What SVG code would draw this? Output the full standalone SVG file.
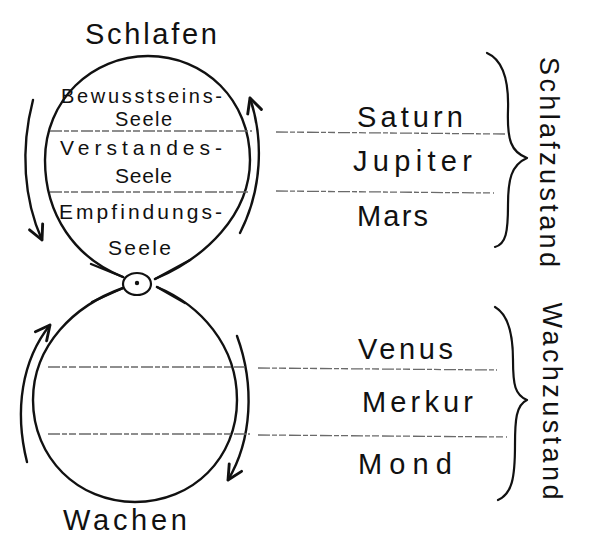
<svg xmlns="http://www.w3.org/2000/svg" width="595" height="556" viewBox="0 0 595 556">
  <defs>
    <style>
      .ink { fill: none; stroke: #111; stroke-width: 2.4; stroke-linecap: round; stroke-linejoin: round; }
      .thin { fill: none; stroke: #111; stroke-width: 2.2; stroke-linecap: round; stroke-linejoin: round; }
      .rule { fill: none; stroke: #6a6a6a; stroke-width: 1.3; stroke-dasharray: 12 2 5 2 7 3; }
      .t { font-family: "Liberation Sans", "DejaVu Sans", sans-serif; fill: #111; }
      .soul { font-size: 21px; }
      .soul2 { font-size: 20px; }
      .planet { font-size: 29px; }
      .title { font-size: 29px; }
      .side { font-size: 27px; }
    </style>
    <marker id="ah" markerUnits="userSpaceOnUse" markerWidth="24" markerHeight="24" viewBox="-13 -10 15 20" refX="0" refY="0" orient="auto">
      <path d="M -12 -6 L 0 0 L -12 6" fill="none" stroke="#111" stroke-width="2.4" stroke-linecap="round" stroke-linejoin="round"/>
    </marker>
  </defs>
  <rect width="595" height="556" fill="#fff"/>

  <g id="connectors">
    <!-- figure-eight outlines -->
    <path class="ink" d="M 123 277 C 75 258, 45 215, 45 160 C 45 100, 92 56, 148 56 C 205 56, 250 100, 250 160 C 250 215, 205 258, 155 279"/>
    <path class="ink" d="M 123 288 C 75 305, 33 345, 33 400 C 33 458, 78 502, 135 502 C 193 502, 237 458, 237 400 C 237 345, 200 305, 157 287"/>
    <path class="ink" d="M 91 264 L 123 277"/>
    <path class="ink" d="M 155 279 L 190 260"/>
    <path class="ink" d="M 92 302 L 123 288"/>
    <path class="ink" d="M 157 287 L 185 303"/>
    <!-- circulation arrows -->
    <path class="ink" d="M 33 100 C 20 150, 24 200, 42 240" marker-end="url(#ah)"/>
    <path class="ink" d="M 240 233 C 262 190, 264 140, 250 98" marker-end="url(#ah)"/>
    <path class="ink" d="M 27 462 C 14 410, 22 360, 50 325" marker-end="url(#ah)"/>
    <path class="ink" d="M 237 336 C 255 385, 252 440, 228 480" marker-end="url(#ah)"/>
    <!-- dividing lines -->
    <path class="rule" d="M 50 131 L 252 131 M 276 132 L 506 134"/>
    <path class="rule" d="M 50 192 L 250 192 M 276 191 L 494 193"/>
    <path class="rule" d="M 48 367 L 245 367 M 258 368 L 497 370"/>
    <path class="rule" d="M 48 434 L 250 434 M 258 435 L 507 437"/>
    <!-- braces -->
    <path class="thin" d="M 487 53 C 503 60, 509 80, 508 110 C 507 140, 511 152, 527 158 C 511 165, 508 180, 508 205 C 508 232, 506 244, 495 247"/>
    <path class="thin" d="M 495 307 C 509 315, 513 335, 513 360 C 513 385, 515 395, 527 400 C 516 405, 515 420, 515 445 C 515 478, 512 494, 498 500"/>
  </g>

  <g id="node-link">
    <ellipse class="thin" cx="137" cy="284" rx="14" ry="11"/>
    <circle cx="137" cy="283" r="2.2" fill="#111"/>
  </g>

  <g id="node-schlafen">
    <text class="t title" x="85" y="44" textLength="132" lengthAdjust="spacing">Schlafen</text>
  </g>
  <g id="node-wachen">
    <text class="t title" x="63" y="530" textLength="124" lengthAdjust="spacing">Wachen</text>
  </g>

  <g id="node-bewusstseinsseele">
    <text class="t soul2" x="61" y="103" textLength="161" lengthAdjust="spacing">Bewusstseins-</text>
    <text class="t soul2" x="115" y="126" textLength="57" lengthAdjust="spacing">Seele</text>
  </g>
  <g id="node-verstandesseele">
    <text class="t soul" x="60" y="155" textLength="162" lengthAdjust="spacing">Verstandes-</text>
    <text class="t soul" x="115" y="183" textLength="57" lengthAdjust="spacing">Seele</text>
  </g>
  <g id="node-empfindungsseele">
    <text class="t soul" x="59" y="219" textLength="163" lengthAdjust="spacing">Empfindungs-</text>
    <text class="t soul" x="108" y="255" textLength="63" lengthAdjust="spacing">Seele</text>
  </g>

  <g id="node-saturn"><text class="t planet" x="357" y="127" textLength="106" lengthAdjust="spacing">Saturn</text></g>
  <g id="node-jupiter"><text class="t planet" x="353" y="171" textLength="119" lengthAdjust="spacing">Jupiter</text></g>
  <g id="node-mars"><text class="t planet" x="357" y="226" textLength="71" lengthAdjust="spacing">Mars</text></g>
  <g id="node-venus"><text class="t planet" x="358" y="359" textLength="95" lengthAdjust="spacing">Venus</text></g>
  <g id="node-merkur"><text class="t planet" x="362" y="412" textLength="111" lengthAdjust="spacing">Merkur</text></g>
  <g id="node-mond"><text class="t planet" x="358" y="474" textLength="94" lengthAdjust="spacing">Mond</text></g>

  <g id="node-schlafzustand">
    <text class="t side" transform="translate(540,162) rotate(90)" x="0" y="0" text-anchor="middle" textLength="210" lengthAdjust="spacing">Schlafzustand</text>
  </g>
  <g id="node-wachzustand">
    <text class="t side" transform="translate(543,401) rotate(90)" x="0" y="0" text-anchor="middle" textLength="197" lengthAdjust="spacing">Wachzustand</text>
  </g>
</svg>
